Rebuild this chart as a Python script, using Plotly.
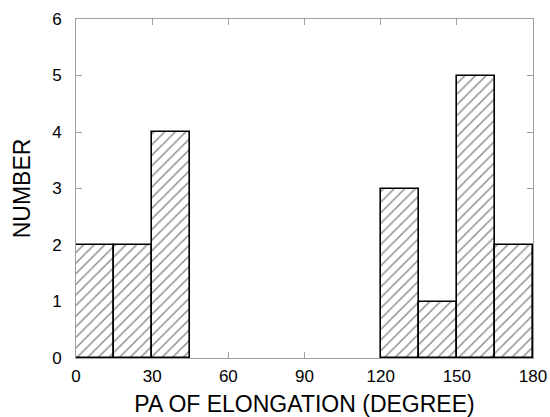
import plotly.graph_objects as go

bin_start = [0, 15, 30, 120, 135, 150, 165]
bin_width = 15
counts = [2, 2, 4, 3, 1, 5, 2]
x_ticks = [0, 30, 60, 90, 120, 150, 180]
y_ticks = [0, 1, 2, 3, 4, 5, 6]

centers = [s + bin_width / 2 for s in bin_start]

FONT = "Liberation Sans, Arial, sans-serif"

fig = go.Figure()
fig.add_trace(go.Bar(
    x=centers, y=counts, width=[bin_width] * len(counts),
    marker=dict(color="white", line=dict(color="black", width=1.6),
                pattern=dict(shape="/", size=7.5, solidity=0.2, fgcolor="#1a1a1a", bgcolor="white")),
    showlegend=False, hoverinfo="skip",
))

axis_common = dict(
    showline=True, linecolor="#a0a0a0", linewidth=1, mirror="ticks",
    ticks="inside", ticklen=6, tickcolor="#a0a0a0", tickwidth=1,
    showgrid=False, zeroline=False, layer="below traces",
    tickfont=dict(family=FONT, size=17, color="black"),
    title_font=dict(family=FONT, size=23, color="black"),
)

fig.update_xaxes(range=[0, 180], tickvals=x_ticks, ticktext=[str(v) for v in x_ticks],
                 title_text="PA OF ELONGATION (DEGREE)", title_standoff=14,
                 ticklabelstandoff=3, **axis_common)
fig.update_yaxes(range=[0, 6], tickvals=y_ticks, ticktext=[str(v) for v in y_ticks],
                 title_text="NUMBER", title_standoff=15,
                 ticklabelstandoff=10, **axis_common)

fig.update_layout(
    width=550, height=417,
    margin=dict(l=76, r=17, t=19, b=59, autoexpand=False),
    plot_bgcolor="white", paper_bgcolor="white",
    bargap=0,
)

fig.write_html("out.html", config={"displayModeBar": False},
               post_script="document.body.style.margin='0';document.body.style.overflow='hidden';")
